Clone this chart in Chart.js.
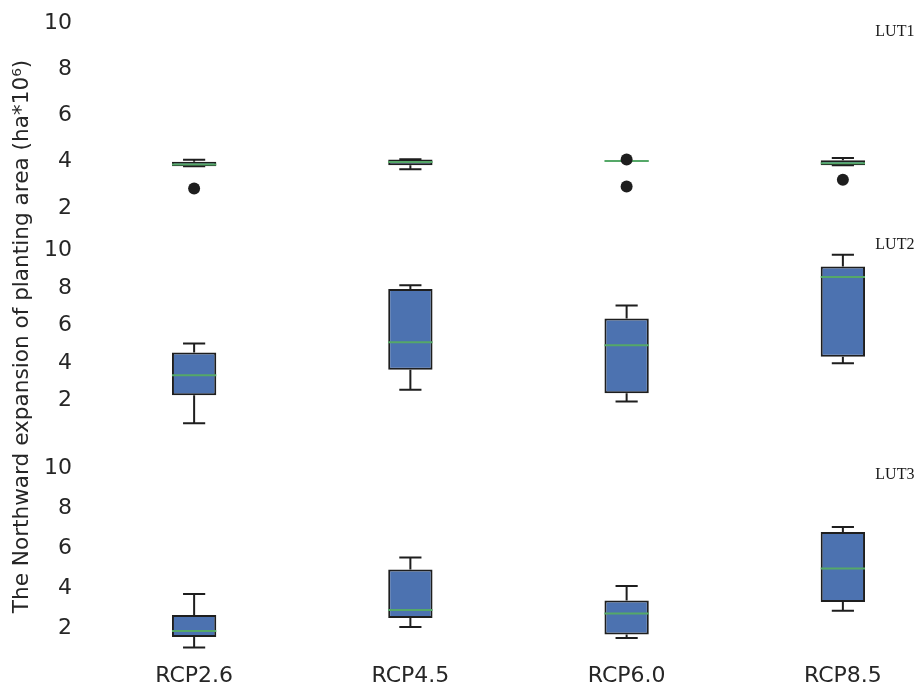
<!DOCTYPE html>
<html>
<head>
<meta charset="utf-8">
<script src="https://cdn.jsdelivr.net/npm/chart.js@4.4.1/dist/chart.umd.min.js"></script>
<style>
    html, body { margin: 0; padding: 0; background: #ffffff; overflow: hidden; }
    #wrap { width: 960px; height: 688px; }
</style>
</head>
<body>
<div id="wrap"><canvas id="boxChart" width="960" height="688"></canvas></div>
<script>
"use strict";

// Categories on the x axis and the tick labels of every panel
const categories = ['RCP2.6', 'RCP4.5', 'RCP6.0', 'RCP8.5'];
const tickValues = [2, 4, 6, 8, 10];
const panelNames = ['LUT1', 'LUT2', 'LUT3'];

// LUT1 box statistics (whisker low, q1, median, q3, whisker high)
const lut1Low = [3.80, 3.68, 4.03, 3.85];
const lut1Q1 = [3.80, 3.85, 4.03, 3.85];
const lut1Median = [3.88, 3.99, 4.03, 3.93];
const lut1Q3 = [4.00, 4.10, 4.03, 4.06];
const lut1High = [4.09, 4.11, 4.03, 4.16];
const lut1Outliers = [
    { x: 'RCP2.6', y: 2.84 },
    { x: 'RCP6.0', y: 4.10 },
    { x: 'RCP6.0', y: 2.93 },
    { x: 'RCP8.5', y: 3.22 }
];

// LUT2 box statistics
const lut2Low = [0.79, 2.57, 1.95, 3.99];
const lut2Q1 = [2.28, 3.64, 2.39, 4.33];
const lut2Median = [3.35, 5.11, 4.95, 8.58];
const lut2Q3 = [4.56, 7.94, 6.37, 9.15];
const lut2High = [5.04, 8.15, 7.07, 9.77];
const lut2Outliers = [];

// LUT3 box statistics
const lut3Low = [1.05, 2.07, 1.52, 2.89];
const lut3Q1 = [1.57, 2.52, 1.70, 3.32];
const lut3Median = [1.88, 2.92, 2.75, 5.00];
const lut3Q3 = [2.68, 4.95, 3.40, 6.82];
const lut3High = [3.73, 5.55, 4.12, 7.07];
const lut3Outliers = [];

// The three panels, each one with its own y axis in the same stack
const panels = [
    { axis: 'yTop', low: lut1Low, q1: lut1Q1, median: lut1Median, q3: lut1Q3, high: lut1High, outliers: lut1Outliers, labelY: 9.61 },
    { axis: 'yMid', low: lut2Low, q1: lut2Q1, median: lut2Median, q3: lut2Q3, high: lut2High, outliers: lut2Outliers, labelY: 10.32 },
    { axis: 'yBot', low: lut3Low, q1: lut3Q1, median: lut3Median, q3: lut3Q3, high: lut3High, outliers: lut3Outliers, labelY: 9.7 }
];

const textColor = '#262626';
const boxColor = '#4c72b0';
const edgeColor = '#1e1e1e';
const medianColor = '#55a868';

// Outliers go first so they are drawn on top of the boxes
const datasets = [];
panels.forEach(function (panel) {
    datasets.push({
        type: 'line',
        data: panel.outliers,
        yAxisID: panel.axis,
        showLine: false,
        pointRadius: 6,
        pointBackgroundColor: edgeColor,
        pointBorderColor: edgeColor,
        pointBorderWidth: 0
    });
});
panels.forEach(function (panel, p) {
    datasets.push({
        type: 'bar',
        panel: p,
        data: categories.map((c, i) => [panel.q1[i], panel.q3[i]]),
        yAxisID: panel.axis,
        grouped: false,
        backgroundColor: boxColor,
        borderColor: edgeColor,
        borderWidth: 2,
        borderSkipped: false,
        barPercentage: 0.205,
        categoryPercentage: 1
    });
});

// Whiskers, medians and the LUT labels
const boxPlotExtras = {
    id: 'boxPlotExtras',
    beforeDatasetsDraw(chart) {
        const ctx = chart.ctx;
        const xScale = chart.scales.x;
        ctx.save();
        ctx.strokeStyle = edgeColor;
        ctx.lineWidth = 2;
        panels.forEach(function (panel, p) {
            const yScale = chart.scales[panel.axis];
            const meta = chart.getDatasetMeta(panels.length + p);
            categories.forEach(function (c, i) {
                const x = xScale.getPixelForValue(i);
                const half = meta.data[i].width / 4;
                const yLow = yScale.getPixelForValue(panel.low[i]);
                const yQ1 = yScale.getPixelForValue(panel.q1[i]);
                const yQ3 = yScale.getPixelForValue(panel.q3[i]);
                const yHigh = yScale.getPixelForValue(panel.high[i]);
                if (panel.q1[i] === panel.q3[i] && panel.low[i] === panel.high[i]) return;
                ctx.beginPath();
                ctx.moveTo(x, yQ3); ctx.lineTo(x, yHigh);
                ctx.moveTo(x - half, yHigh); ctx.lineTo(x + half, yHigh);
                ctx.moveTo(x, yQ1); ctx.lineTo(x, yLow);
                ctx.moveTo(x - half, yLow); ctx.lineTo(x + half, yLow);
                ctx.stroke();
            });
        });
        ctx.restore();
    },
    afterDatasetDraw(chart, args) {
        const dataset = chart.data.datasets[args.index];
        if (dataset.type !== 'bar') return;
        const panel = panels[dataset.panel];
        const ctx = chart.ctx;
        const yScale = chart.scales[panel.axis];
        ctx.save();
        ctx.strokeStyle = medianColor;
        ctx.lineWidth = 2;
        args.meta.data.forEach(function (bar, i) {
            const y = yScale.getPixelForValue(panel.median[i]);
            ctx.beginPath();
            ctx.moveTo(bar.x - bar.width / 2, y);
            ctx.lineTo(bar.x + bar.width / 2, y);
            ctx.stroke();
        });
        ctx.restore();
    },
    afterDraw(chart) {
        const ctx = chart.ctx;
        const xScale = chart.scales.x;
        ctx.save();
        ctx.fillStyle = '#1a1a1a';
        ctx.font = '16px "Liberation Serif"';
        ctx.textAlign = 'left';
        ctx.textBaseline = 'middle';
        panels.forEach(function (panel, p) {
            const yScale = chart.scales[panel.axis];
            ctx.fillText(panelNames[p], xScale.getPixelForValue(3.15), yScale.getPixelForValue(panel.labelY));
        });
        ctx.restore();
    }
};

function panelAxis(min, max, weight, withTitle) {
    return {
        type: 'linear',
        position: 'left',
        stack: 'panels',
        stackWeight: weight,
        min: min,
        max: max,
        afterBuildTicks: function (axis) {
            axis.ticks = tickValues.map(v => ({ value: v }));
        },
        afterFit: function (axis) {
            axis.width = 86;
            axis.paddingTop = 0;
            axis.paddingBottom = 0;
        },
        grid: { display: false, drawTicks: false },
        border: { display: false },
        ticks: {
            autoSkip: false,
            padding: 14,
            color: textColor,
            font: { family: 'DejaVu Sans', size: 22 }
        },
        title: {
            display: withTitle,
            text: 'The Northward expansion of planting area (ha*10\u2076)',
            color: textColor,
            font: { family: 'DejaVu Sans', size: 21.6 },
            padding: { top: 9, bottom: 0 }
        }
    };
}

new Chart(document.getElementById('boxChart'), {
    data: {
        labels: categories,
        datasets: datasets
    },
    options: {
        responsive: false,
        animation: false,
        layout: {
            autoPadding: false,
            padding: { left: 0, right: 9, top: 0, bottom: 0 }
        },
        plugins: {
            legend: { display: false },
            tooltip: { enabled: false }
        },
        scales: {
            x: {
                type: 'category',
                offset: true,
                grid: { display: false, drawTicks: false },
                border: { display: false },
                ticks: {
                    autoSkip: false,
                    padding: 8,
                    color: textColor,
                    font: { family: 'DejaVu Sans', size: 22 }
                },
                afterFit: function (axis) {
                    axis.height = 33;
                    axis.paddingLeft = 0;
                    axis.paddingRight = 0;
                }
            },
            yBot: panelAxis(0.675, 11.175, 210, false),
            yMid: panelAxis(-0.374, 11.2, 217, true),
            yTop: panelAxis(1.135, 10.994, 228, false)
        }
    },
    plugins: [boxPlotExtras]
});
</script>
</body>
</html>
